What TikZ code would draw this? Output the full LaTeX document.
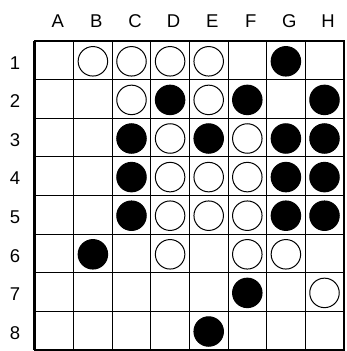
\documentclass[tikz,border=0pt]{standalone}
\usepackage{fontspec}
\setmainfont{Liberation Sans}

\begin{document}
\begin{tikzpicture}[
    x=1pt, y=-1pt,
    every node/.style={font=\fontsize{18.5}{18.5}\selectfont},
    gridline/.style={draw=black, line width=1pt},
    boardframe/.style={draw=black, line width=2.6pt},
    whitedisc/.style={circle, draw=black, fill=white, line width=1pt, minimum size=29.5pt, inner sep=0pt},
    blackdisc/.style={circle, draw=black, fill=black, line width=1pt, minimum size=29.5pt, inner sep=0pt}
    ]
    \useasboundingbox (0,0) rectangle (346,351);
    \def\cs{38.6}
    % grid
    \foreach \i in {1,...,7} {
        \draw[gridline] ({35+\i*\cs},41) -- ({35+\i*\cs},{41+8*\cs});
        \draw[gridline] (35,{41+\i*\cs}) -- ({35+8*\cs},{41+\i*\cs});
    }
    \draw[boardframe] (35,41) rectangle ({35+8*\cs},{41+8*\cs});
    \draw[boardframe] (34,41) -- (34,{41+8*\cs});
    % labels
    \foreach \l [count=\c] in {A,B,C,D,E,F,G,H}
        \node (col\l) at ({35+(\c-0.5)*\cs+3.5},21.5) {\l};
    \foreach \r in {1,...,8}
        \node (row\r) at (15,{41+(\r-0.5)*\cs+2.5}) {\r};
    % discs
    \foreach \c/\r in {2/1,3/1,4/1,5/1,3/2,5/2,4/3,6/3,4/4,5/4,6/4,4/5,5/5,6/5,4/6,6/6,7/6,8/7}
        \node[whitedisc] (w\c\r) at ({35+(\c-0.5)*\cs},{41+(\r-0.5)*\cs+1}) {};
    \foreach \c/\r in {7/1,4/2,6/2,8/2,3/3,5/3,7/3,8/3,3/4,7/4,8/4,3/5,7/5,8/5,2/6,6/7,5/8}
        \node[blackdisc] (b\c\r) at ({35+(\c-0.5)*\cs},{41+(\r-0.5)*\cs+1}) {};
\end{tikzpicture}
\end{document}
